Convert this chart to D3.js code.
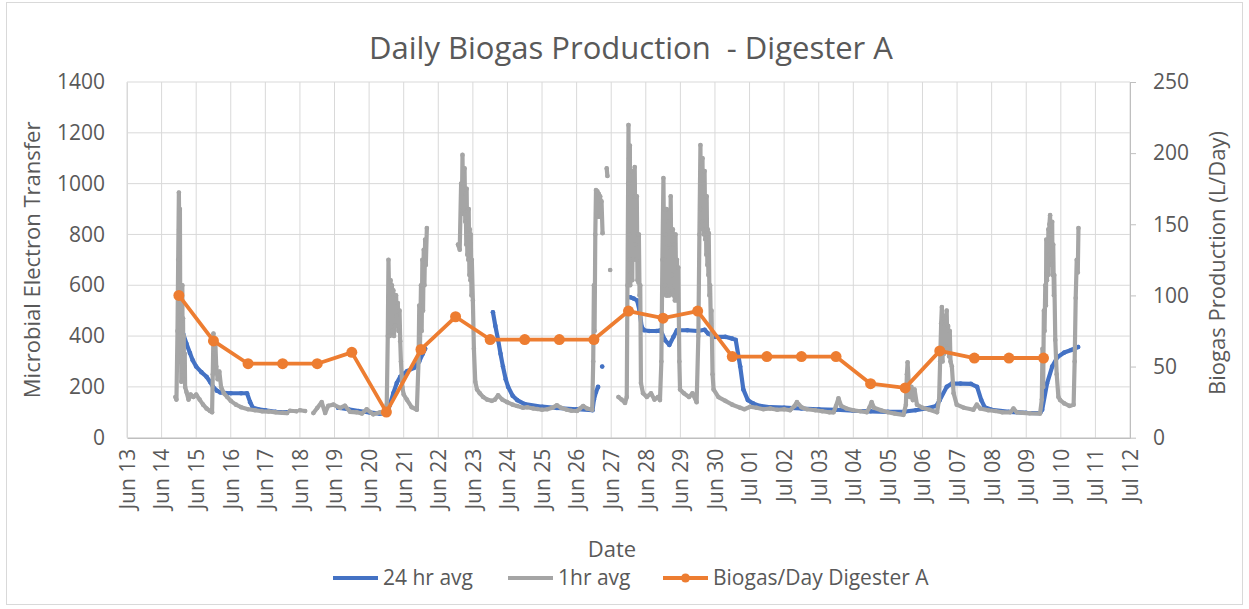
<!DOCTYPE html>
<html>
<head>
<meta charset="utf-8">
<script src="https://cdn.jsdelivr.net/npm/d3@7"></script>
<style>
  body { margin: 0; background: #fff; }
  svg { display: block; font-family: "Open Sans", sans-serif; }
</style>
</head>
<body>
<svg id="chart" width="1249" height="609"></svg>
<script>
// all days are counted from Jun 13 00:00
const startDate = new Date(2019, 5, 13);
const dayTicks = d3.range(0, 30);               // Jun 13 .. Jul 12
const leftTicks = [0, 200, 400, 600, 800, 1000, 1200, 1400];
const rightTicks = [0, 50, 100, 150, 200, 250];

// Biogas/Day Digester A (L/Day, right axis)
const biogasDays = [1.5, 2.5, 3.5, 4.5, 5.5, 6.5, 7.5, 8.5, 9.5, 10.5, 11.5, 12.5, 13.5,
                    14.5, 15.5, 16.5, 17.5, 18.5, 19.5, 20.5, 21.5, 22.5, 23.5, 24.5, 25.5, 26.5];
const biogasPerDay = [100, 68, 52, 52, 52, 60, 18, 62, 85, 69, 69, 69, 69,
                      89, 84, 89, 57, 57, 57, 57, 38, 35, 61, 56, 56, 56];

// 1hr avg [day, value], null = no data
const hourlyAvg = [
  [1.40,160],[1.43,150],[1.46,420],[1.48,700],[1.50,965],[1.51,820],[1.52,600],[1.53,900],[1.54,480],
  [1.55,300],[1.56,560],[1.57,220],[1.58,460],[1.59,330],[1.60,600],[1.61,260],[1.62,470],[1.63,300],
  [1.64,400],[1.65,230],[1.67,330],[1.68,200],[1.72,180],[1.78,150],[1.84,170],[1.92,160],
  [2.00,170],[2.10,150],[2.20,130],[2.30,115],[2.40,105],[2.46,100],[2.48,250],[2.50,410],[2.52,330],
  [2.55,390],[2.58,280],[2.62,230],[2.67,260],[2.72,200],[2.80,175],[2.90,160],[3.00,145],[3.15,130],
  [3.30,120],[3.50,112],[3.70,108],[3.90,104],[4.10,103],[4.30,100],[4.50,98],[4.63,97],[4.67,null],
  [4.71,106],[4.90,104],[4.95,null],
  [5.00,108],[5.15,105],[5.25,null],
  [5.39,97],[5.50,117],[5.63,140],[5.73,97],[5.82,126],[5.97,130],[6.16,117],[6.30,126],[6.45,102],
  [6.64,100],[6.79,95],[6.93,112],[7.12,92],[7.32,100],[7.46,92],[7.51,130],[7.54,400],[7.56,700],
  [7.58,560],[7.60,400],[7.62,620],[7.64,450],[7.66,600],[7.68,420],[7.70,580],[7.72,400],[7.74,560],
  [7.76,440],[7.78,560],[7.80,480],[7.83,530],[7.85,420],[7.88,500],[7.90,380],[7.92,300],[7.96,200],
  [8.00,170],[8.09,150],[8.23,120],[8.38,110],[8.43,300],[8.45,520],[8.47,350],[8.50,600],[8.52,420],
  [8.54,700],[8.56,500],[8.58,740],[8.60,600],[8.62,780],[8.64,680],[8.67,825],[8.70,null],
  [9.57,760],[9.62,740],[9.66,1000],[9.68,880],[9.70,1113],[9.72,900],[9.73,1050],[9.75,880],[9.76,1060],
  [9.78,850],[9.79,960],[9.81,760],[9.82,980],[9.84,720],[9.85,900],[9.87,700],[9.88,900],[9.90,640],
  [9.91,820],[9.93,620],[9.94,800],[9.96,560],[9.97,700],[10.00,540],[10.03,350],[10.07,220],[10.12,190],
  [10.20,175],[10.30,160],[10.41,150],[10.55,145],[10.64,150],[10.73,167],[10.85,150],[10.99,140],
  [11.15,130],[11.28,125],[11.45,118],[11.57,120],[11.75,115],[11.86,113],[12.00,110],[12.15,112],
  [12.30,118],[12.43,128],[12.55,118],[12.72,110],[12.85,106],[13.01,105],[13.10,115],[13.19,125],
  [13.30,115],[13.45,110],[13.48,300],[13.50,600],[13.52,420],[13.54,800],[13.56,975],[13.58,880],
  [13.60,970],[13.62,870],[13.64,960],[13.66,870],[13.68,950],[13.70,870],[13.72,930],[13.75,805],
  [13.78,null],
  [13.87,1060],[13.89,1030],[13.91,null],
  [13.97,660],[13.99,null],
  [14.21,160],[14.30,150],[14.40,137],[14.45,160],[14.47,600],[14.49,1000],[14.50,1231],[14.51,700],
  [14.52,1100],[14.53,800],[14.54,1150],[14.55,600],[14.56,950],[14.57,650],[14.58,1050],[14.59,700],
  [14.60,900],[14.61,620],[14.62,1000],[14.64,700],[14.66,950],[14.68,1065],[14.70,760],[14.71,950],
  [14.73,700],[14.74,950],[14.76,620],[14.77,800],[14.79,610],[14.80,800],[14.82,560],[14.84,600],
  [14.86,215],[14.92,175],[15.03,160],[15.15,175],[15.25,150],[15.35,160],[15.41,148],[15.45,300],
  [15.48,700],[15.51,1022],[15.53,700],[15.54,900],[15.56,600],[15.57,800],[15.59,560],[15.60,900],
  [15.62,560],[15.63,750],[15.65,580],[15.66,850],[15.68,560],[15.69,760],[15.71,600],[15.72,950],
  [15.74,640],[15.75,820],[15.77,580],[15.78,820],[15.80,560],[15.82,760],[15.84,540],[15.86,800],
  [15.88,560],[15.90,700],[15.92,540],[15.94,670],[15.97,300],[15.99,190],[16.10,175],[16.25,160],
  [16.35,175],[16.47,140],[16.52,400],[16.55,800],[16.58,1152],[16.59,900],[16.61,1080],[16.62,850],
  [16.64,1100],[16.65,820],[16.67,1000],[16.68,800],[16.70,1050],[16.72,780],[16.73,950],[16.75,720],
  [16.76,950],[16.78,680],[16.79,820],[16.81,640],[16.82,805],[16.84,560],[16.86,600],[16.88,450],
  [16.90,500],[16.93,250],[16.96,190],
  [17.10,160],[17.30,145],[17.50,130],[17.73,118],[17.85,112],[18.02,122],[18.20,118],[18.40,112],
  [18.60,115],[18.80,110],[19.00,112],[19.17,108],[19.30,125],[19.37,140],[19.50,120],[19.66,112],
  [19.90,108],[20.10,104],[20.30,100],[20.43,100],[20.50,125],[20.57,155],[20.65,125],[20.80,115],
  [21.00,108],[21.20,104],[21.39,100],[21.47,120],[21.53,140],[21.60,118],[21.80,108],[22.00,100],
  [22.20,95],[22.45,90],[22.52,130],[22.55,250],[22.57,297],[22.60,220],[22.64,160],[22.68,200],
  [22.72,148],[22.77,190],[22.84,130],[23.00,118],[23.20,110],[23.42,100],[23.48,150],[23.51,300],
  [23.54,450],[23.56,514],[23.58,300],[23.60,470],[23.62,330],[23.64,480],[23.66,360],[23.68,450],
  [23.70,500],[23.72,350],[23.74,440],[23.77,320],[23.79,420],[23.81,300],[23.85,280],[23.90,175],
  [23.99,130],[24.20,118],[24.47,110],[24.57,130],[24.67,115],[24.90,108],[25.10,105],[25.30,100],
  [25.54,100],[25.63,115],[25.73,100],[25.90,98],[26.10,96],[26.40,95],[26.45,150],[26.47,350],
  [26.49,200],[26.51,500],[26.53,420],[26.55,600],[26.57,520],[26.58,780],[26.60,620],[26.61,760],
  [26.63,640],[26.64,820],[26.66,720],[26.67,840],[26.69,876],[26.70,700],[26.72,800],[26.73,680],
  [26.75,850],[26.76,640],[26.78,760],[26.80,560],[26.81,640],[26.84,385],[26.88,250],[26.93,160],
  [26.98,148],[27.10,135],[27.25,125],[27.37,130],[27.40,300],[27.43,550],[27.46,700],[27.49,650],
  [27.51,825]
];

// 24 hr avg [day, value], null = no data
const dailyAvg = [
  [1.50,465],[1.55,450],[1.62,410],[1.72,370],[1.82,333],[1.90,305],[2.00,280],[2.15,258],[2.30,240],
  [2.40,220],[2.49,200],[2.60,185],[2.70,178],[3.00,175],[3.30,175],[3.47,175],[3.56,140],[3.64,118],
  [3.80,112],[4.00,108],[4.30,102],[4.63,100],[4.70,null],
  [6.10,118],[6.40,112],[6.70,105],[7.00,100],[7.30,95],[7.52,95],[7.60,130],[7.70,175],[7.80,215],
  [7.90,240],[8.10,262],[8.30,275],[8.45,300],[8.55,330],[8.62,350],[8.70,null],
  [10.58,494],[10.65,440],[10.73,385],[10.80,330],[10.87,280],[10.95,230],[11.02,200],[11.15,165],
  [11.28,148],[11.50,132],[12.00,122],[12.43,117],[13.00,112],[13.46,108],[13.50,150],[13.56,180],
  [13.62,200],[13.70,null],[13.74,280],[13.78,null],
  [14.55,553],[14.65,548],[14.75,540],[14.82,500],[14.88,437],[14.95,423],[15.10,420],[15.30,420],
  [15.43,423],[15.55,385],[15.68,365],[15.80,397],[15.90,423],[16.20,423],[16.50,420],[16.70,425],
  [16.80,410],[17.00,397],[17.30,397],[17.50,390],[17.60,385],[17.73,280],[17.82,190],[17.95,148],
  [18.10,135],[18.30,125],[18.60,120],[19.00,118],[19.50,115],[20.00,112],[20.50,110],[21.00,106],
  [21.50,104],[22.00,102],[22.50,103],[22.80,108],[23.10,115],[23.40,125],[23.50,148],[23.70,200],
  [23.85,213],[24.10,213],[24.40,212],[24.58,200],[24.70,148],[24.80,120],[25.00,110],[25.50,102],
  [26.00,98],[26.40,97],[26.46,110],[26.60,213],[26.75,280],[26.90,317],[27.10,335],[27.30,345],
  [27.50,357]
];

const textColor = "#595959";
const gridColor = "#d9d9d9";

function toDate(day) {
  return new Date(startDate.getTime() + day * 864e5);
}

const svg = d3.select("#chart");
const plot = {left: 127, right: 1130, top: 82, bottom: 437.7};

const x = d3.scaleTime()
  .domain([toDate(0), toDate(29)])
  .range([plot.left, plot.right]);
const yLeft = d3.scaleLinear().domain([0, 1400]).range([plot.bottom, plot.top]);
const yRight = d3.scaleLinear().domain([0, 250]).range([plot.bottom, plot.top]);

// chart border
svg.append("rect")
  .attr("x", 6.5).attr("y", 2.5)
  .attr("width", 1236).attr("height", 602)
  .attr("fill", "#fff")
  .attr("stroke", gridColor);

// grid
const grid = svg.append("g");
grid.selectAll("line.h")
  .data(leftTicks.slice(1))
  .join("line")
  .attr("x1", plot.left).attr("x2", plot.right)
  .attr("y1", d => yLeft(d)).attr("y2", d => yLeft(d))
  .attr("stroke", gridColor).attr("stroke-width", 1);
grid.selectAll("line.v")
  .data(dayTicks)
  .join("line")
  .attr("x1", d => x(toDate(d))).attr("x2", d => x(toDate(d)))
  .attr("y1", plot.top).attr("y2", plot.bottom)
  .attr("stroke", gridColor).attr("stroke-width", 1);

// axes
const xAxis = svg.append("g")
  .attr("transform", `translate(0,${plot.bottom})`)
  .call(d3.axisBottom(x)
    .tickValues(dayTicks.map(toDate))
    .tickFormat(d3.timeFormat("%b %d"))
    .tickSize(0));
xAxis.select(".domain").attr("stroke", "#bfbfbf").attr("stroke-width", 1.5);
xAxis.selectAll("text")
  .attr("transform", "rotate(-90)")
  .attr("x", -11).attr("y", 0).attr("dy", "0.35em")
  .style("text-anchor", "end")
  .attr("fill", textColor)
  .style("font-size", "21px");

const leftAxis = svg.append("g")
  .attr("transform", `translate(${plot.left},0)`)
  .call(d3.axisLeft(yLeft).tickValues(leftTicks).tickFormat(d3.format("d")).tickSize(0).tickPadding(22));
leftAxis.select(".domain").attr("stroke", gridColor);
leftAxis.selectAll("text").attr("fill", textColor).style("font-size", "21px");

const rightAxis = svg.append("g")
  .attr("transform", `translate(${plot.right},0)`)
  .call(d3.axisRight(yRight).tickValues(rightTicks).tickSize(6).tickSizeOuter(0).tickPadding(17));
rightAxis.select(".domain").attr("stroke", "#bfbfbf");
rightAxis.selectAll(".tick line").attr("stroke", "#bfbfbf");
rightAxis.selectAll("text").attr("fill", textColor).style("font-size", "21px");

svg.selectAll(".tick text").style("font-family", "'Open Sans', sans-serif");

// series
const seriesLine = d3.line()
  .defined(d => d[1] != null)
  .x(d => x(toDate(d[0])))
  .y(d => yLeft(d[1]));

function drawDotted(data, color) {
  const g = svg.append("g");
  g.append("path")
    .datum(data)
    .attr("d", seriesLine)
    .attr("fill", "none")
    .attr("stroke", color)
    .attr("stroke-width", 4.2)
    .attr("stroke-linejoin", "round")
    .attr("stroke-linecap", "round");
  g.selectAll("circle")
    .data(data.filter(d => d[1] != null))
    .join("circle")
    .attr("cx", d => x(toDate(d[0])))
    .attr("cy", d => yLeft(d[1]))
    .attr("r", 2.3)
    .attr("fill", color);
}

drawDotted(dailyAvg, "#4472c4");
drawDotted(hourlyAvg, "#a5a5a5");

const biogas = biogasDays.map((d, i) => [d, biogasPerDay[i]]);
svg.append("path")
  .datum(biogas)
  .attr("d", d3.line().x(d => x(toDate(d[0]))).y(d => yRight(d[1])))
  .attr("fill", "none")
  .attr("stroke", "#ed7d31")
  .attr("stroke-width", 3.8)
  .attr("stroke-linejoin", "round");
svg.append("g").selectAll("circle")
  .data(biogas)
  .join("circle")
  .attr("cx", d => x(toDate(d[0])))
  .attr("cy", d => yRight(d[1]))
  .attr("r", 5.5)
  .attr("fill", "#ed7d31");

// titles
svg.append("text")
  .attr("x", 631).attr("y", 59)
  .attr("text-anchor", "middle")
  .attr("fill", textColor)
  .style("font-size", "31px")
  .style("white-space", "pre")
  .text("Daily Biogas Production  - Digester A");

svg.append("text")
  .attr("transform", `translate(40,${(plot.top + plot.bottom) / 2}) rotate(-90)`)
  .attr("text-anchor", "middle")
  .attr("fill", textColor)
  .style("font-size", "22px")
  .text("Microbial Electron Transfer");

svg.append("text")
  .attr("transform", `translate(1225,263) rotate(-90)`)
  .attr("text-anchor", "middle")
  .attr("fill", textColor)
  .style("font-size", "22px")
  .text("Biogas Production (L/Day)");

svg.append("text")
  .attr("x", 612).attr("y", 557)
  .attr("text-anchor", "middle")
  .attr("fill", textColor)
  .style("font-size", "22px")
  .text("Date");

// legend
const legendItems = [
  {label: "24 hr avg", color: "#4472c4", x: 333, marker: false},
  {label: "1hr avg", color: "#a5a5a5", x: 508, marker: false},
  {label: "Biogas/Day Digester A", color: "#ed7d31", x: 663, marker: true}
];
const legend = svg.append("g").attr("transform", "translate(0,578)");
const item = legend.selectAll("g")
  .data(legendItems)
  .join("g")
  .attr("transform", d => `translate(${d.x},0)`);
item.append("line")
  .attr("x1", 0).attr("x2", 45)
  .attr("stroke", d => d.color)
  .attr("stroke-width", 3.8);
item.filter(d => d.marker).append("circle")
  .attr("cx", 22.5).attr("r", 4.5)
  .attr("fill", d => d.color);
item.append("text")
  .attr("x", 50).attr("dy", "0.35em")
  .attr("fill", textColor)
  .style("font-size", "21px")
  .text(d => d.label);
</script>
</body>
</html>
